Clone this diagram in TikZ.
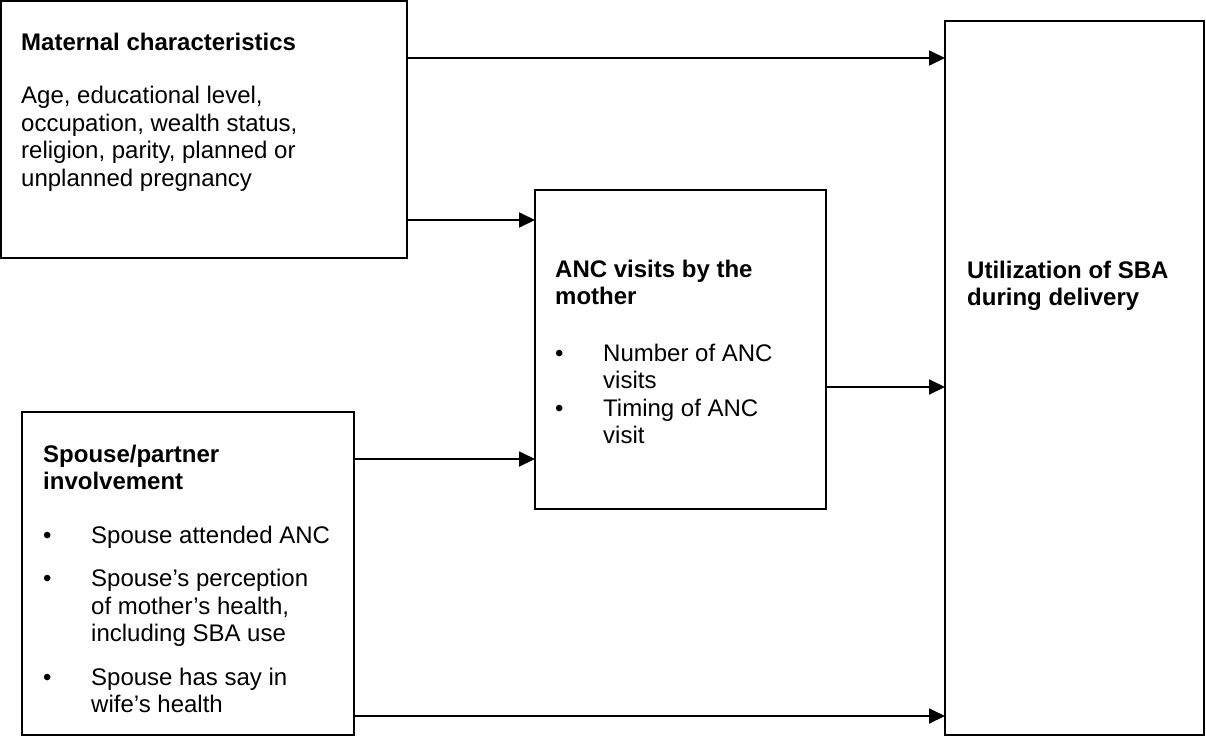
\documentclass[tikz,border=0pt]{standalone}
\usepackage{fontspec}
\setmainfont{Liberation Sans}
\usetikzlibrary{arrows.meta}
\begin{document}
\begin{tikzpicture}[x=1pt,y=-1pt,
  boxst/.style={draw, line width=1.8pt, inner sep=0pt, outer sep=0pt, anchor=north west},
  txt/.style={inner sep=0pt, anchor=base west, font=\fontsize{24}{27.5}\selectfont},
  arr/.style={line width=1.8pt, -{Triangle[length=16pt,width=15pt]}}]
\useasboundingbox (0,0) rectangle (1206,736);
% boxes
\node[boxst, minimum width=406pt, minimum height=257pt] (mat) at (1,1) {};
\node[boxst, minimum width=291pt, minimum height=319pt] (anc) at (535,190) {};
\node[boxst, minimum width=259pt, minimum height=714pt] (util) at (945,21) {};
\node[boxst, minimum width=332pt, minimum height=323pt] (sp) at (22,412) {};
% texts
\node[txt] (matT) at (21,50) {\begin{tabular}[t]{@{}l@{}}\bfseries Maternal characteristics\\[26pt]
Age, educational level,\\ occupation, wealth status,\\ religion, parity, planned or\\ unplanned pregnancy\end{tabular}};
\node[txt] (ancT) at (555,277) {\begin{tabular}[t]{@{}p{48pt}@{}l@{}}\multicolumn{2}{@{}l@{}}{\bfseries ANC visits by the}\\
\multicolumn{2}{@{}l@{}}{\bfseries mother}\\[29pt]
\textbullet & Number of ANC\\ & visits\\ \textbullet & Timing of ANC\\ & visit\end{tabular}};
\node[txt] (spT) at (43,462) {\begin{tabular}[t]{@{}p{48pt}@{}l@{}}\multicolumn{2}{@{}l@{}}{\bfseries Spouse/partner}\\
\multicolumn{2}{@{}l@{}}{\bfseries involvement}\\[26pt]
\textbullet & Spouse attended ANC\\[16pt]
\textbullet & Spouse’s perception\\ & of mother’s health,\\ & including SBA use\\[16pt]
\textbullet & Spouse has say in\\ & wife’s health\end{tabular}};
\node[txt] (utilT) at (967,278) {\begin{tabular}[t]{@{}l@{}}\bfseries Utilization of SBA\\ \bfseries during delivery\end{tabular}};
% connectors
\draw[arr] (mat.east |- 0,58) -- (util.west |- 0,58);
\draw[arr] (mat.east |- 0,220) -- (anc.west |- 0,220);
\draw[arr] (sp.east |- 0,459) -- (anc.west |- 0,459);
\draw[arr] (anc.east |- 0,387) -- (util.west |- 0,387);
\draw[arr] (sp.east |- 0,716) -- (util.west |- 0,716);
\end{tikzpicture}
\end{document}
